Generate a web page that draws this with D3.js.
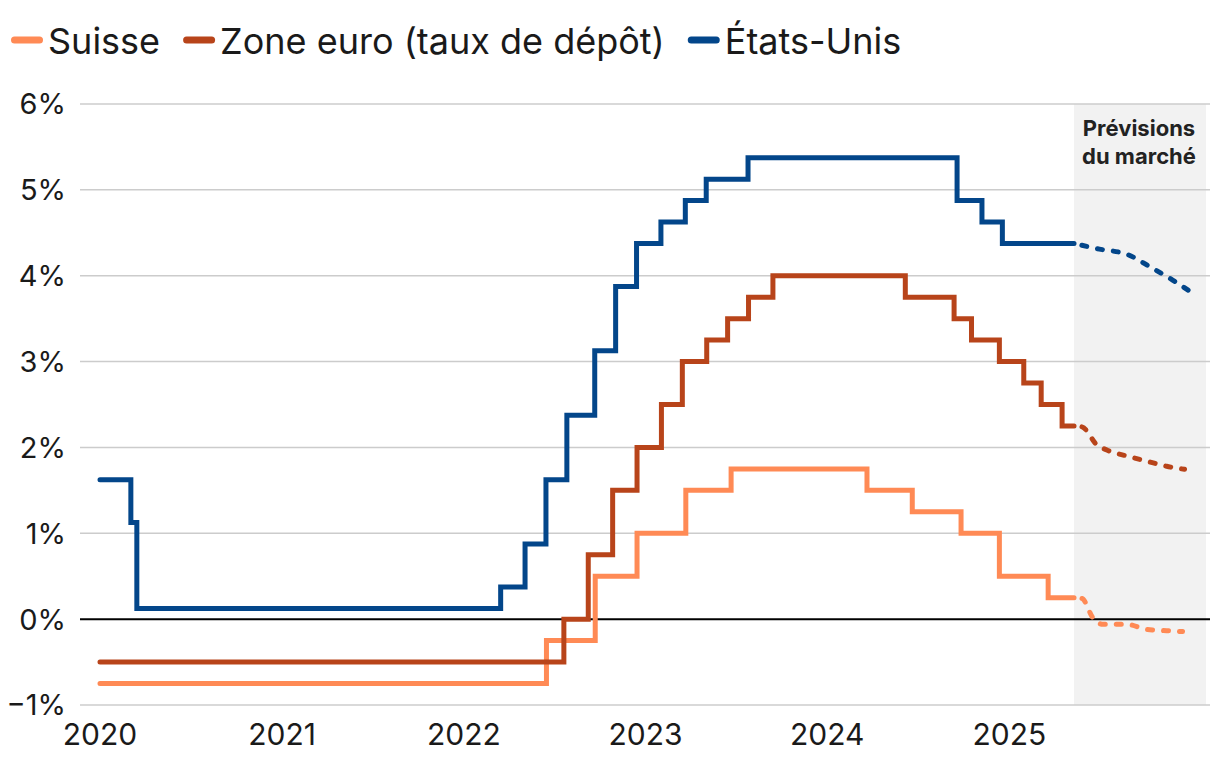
<!DOCTYPE html>
<html>
<head>
<meta charset="utf-8">
<script src="https://cdn.jsdelivr.net/npm/d3@7"></script>
<style>
  html, body { margin: 0; padding: 0; background: #fff; }
  svg { display: block; font-family: Inter, "Noto Sans", sans-serif; }
</style>
</head>
<body>
<svg id="chart" width="1220" height="764"></svg>
<script>
// ---------- DATA ----------
const seriesNames = ["Suisse", "Zone euro (taux de dépôt)", "États-Unis"];
const seriesColors = ["#FF8A55", "#B8441A", "#03468A"];

// Suisse (SNB policy rate)
const chDates  = ["2020-01-01","2022-06-16","2022-09-22","2022-12-15","2023-03-23","2023-06-22","2024-03-21","2024-06-20","2024-09-26","2024-12-12","2025-03-20","2025-05-11"];
const chValues = [-0.75, -0.25, 0.5, 1.0, 1.5, 1.75, 1.5, 1.25, 1.0, 0.5, 0.25, 0.25];

// Zone euro (taux de dépôt)
const euDates  = ["2020-01-01","2022-07-21","2022-09-08","2022-10-27","2022-12-15","2023-02-02","2023-03-16","2023-05-04","2023-06-15","2023-07-27","2023-09-14","2024-06-06","2024-09-12","2024-10-17","2024-12-12","2025-01-30","2025-03-06","2025-04-17","2025-05-11"];
const euValues = [-0.5, 0.0, 0.75, 1.5, 2.0, 2.5, 3.0, 3.25, 3.5, 3.75, 4.0, 3.75, 3.5, 3.25, 3.0, 2.75, 2.5, 2.25, 2.25];

// États-Unis (Fed funds, milieu de fourchette)
const usDates  = ["2020-01-01","2020-03-03","2020-03-15","2022-03-16","2022-05-04","2022-06-15","2022-07-27","2022-09-21","2022-11-02","2022-12-14","2023-02-01","2023-03-22","2023-05-03","2023-07-26","2024-09-18","2024-11-07","2024-12-18","2025-05-11"];
const usValues = [1.625, 1.125, 0.125, 0.375, 0.875, 1.625, 2.375, 3.125, 3.875, 4.375, 4.625, 4.875, 5.125, 5.375, 4.875, 4.625, 4.375, 4.375];

// Prévisions du marché
const chFcDates  = ["2025-05-11","2025-05-27","2025-06-18","2025-07-08","2025-08-25","2025-10-04","2025-11-13","2025-12-15"];
const chFcValues = [0.25, 0.24, 0.015, -0.06, -0.06, -0.12, -0.135, -0.145];
const euFcDates  = ["2025-05-11","2025-05-27","2025-06-26","2025-07-16","2025-08-25","2025-10-04","2025-11-13","2025-12-19"];
const euFcValues = [2.25, 2.24, 2.03, 1.97, 1.90, 1.84, 1.78, 1.745];
const usFcDates  = ["2025-05-11","2025-07-01","2025-08-25","2025-10-16","2025-11-25","2025-12-28"];
const usFcValues = [4.375, 4.31, 4.25, 4.085, 3.95, 3.825];

const forecastStart = "2025-05-11";
const forecastEnd = "2026-01-31";
const forecastLabel = ["Prévisions", "du marché"];

const yTicks = [-1, 0, 1, 2, 3, 4, 5, 6];
const xTickYears = [2020, 2021, 2022, 2023, 2024, 2025];

// ---------- LAYOUT ----------
const parse = d3.utcParse("%Y-%m-%d");
const svg = d3.select("#chart");
const gridX0 = 80, gridX1 = 1210;

const x = d3.scaleUtc()
  .domain([parse("2020-01-01"), parse("2026-01-01")])
  .range([100, 1191]);
const y = d3.scaleLinear().domain([-1, 6]).range([705, 104]);

const textColor = "#1a1a1a";

// forecast shading
svg.append("rect")
  .attr("x", x(parse(forecastStart)))
  .attr("y", y(6))
  .attr("width", x(parse(forecastEnd)) - x(parse(forecastStart)))
  .attr("height", y(-1) - y(6))
  .attr("fill", "#f2f2f2");

// gridlines
svg.append("g").selectAll("line").data(yTicks.filter(d => d !== 0)).join("line")
  .attr("x1", gridX0).attr("x2", gridX1)
  .attr("y1", d => y(d)).attr("y2", d => y(d))
  .attr("stroke", "#cccccc").attr("stroke-width", 1.5);

// y labels
svg.append("g").selectAll("text").data(yTicks).join("text")
  .attr("x", 66).attr("y", d => y(d))
  .attr("dy", "0.36em")
  .attr("text-anchor", "end")
  .attr("font-size", 29)
  .attr("fill", textColor)
  .text(d => (d < 0 ? "\u2212" + Math.abs(d) : d) + "%");

// x labels
svg.append("g").selectAll("text").data(xTickYears).join("text")
  .attr("x", d => x(parse(d + "-01-01")))
  .attr("y", 745)
  .attr("text-anchor", "middle")
  .attr("font-size", 30)
  .attr("fill", textColor)
  .text(d => d);

// zero line
svg.append("line")
  .attr("x1", gridX0).attr("x2", gridX1)
  .attr("y1", y(0)).attr("y2", y(0))
  .attr("stroke", "#000").attr("stroke-width", 2);

// forecast label
svg.append("text")
  .attr("text-anchor", "middle")
  .attr("font-size", 22).attr("font-weight", 700)
  .attr("fill", "#222")
  .selectAll("tspan").data(forecastLabel).join("tspan")
  .attr("x", 1139)
  .attr("y", (d, i) => 136 + i * 28)
  .text(d => d);

// lines
const stepLine = d3.line().x(d => x(d[0])).y(d => y(d[1])).curve(d3.curveStepAfter);
const smoothLine = d3.line().x(d => x(d[0])).y(d => y(d[1])).curve(d3.curveMonotoneX);
const zip = (ds, vs) => ds.map((d, i) => [parse(d), vs[i]]);

const actual = [zip(chDates, chValues), zip(euDates, euValues), zip(usDates, usValues)];
const forecast = [zip(chFcDates, chFcValues), zip(euFcDates, euFcValues), zip(usFcDates, usFcValues)];

actual.forEach((data, i) => {
  svg.append("path").datum(data)
    .attr("d", stepLine)
    .attr("fill", "none")
    .attr("stroke", seriesColors[i])
    .attr("stroke-width", 5)
    .attr("stroke-linejoin", "miter")
    .attr("stroke-linecap", "round");
  svg.append("path").datum(forecast[i])
    .attr("d", smoothLine)
    .attr("fill", "none")
    .attr("stroke", seriesColors[i])
    .attr("stroke-width", 5)
    .attr("stroke-dasharray", "5,11")
    .attr("stroke-dashoffset", -8)
    .attr("stroke-linecap", "round");
});

// legend
const legend = svg.append("g");
let lx = 11;
seriesNames.forEach((name, i) => {
  legend.append("line")
    .attr("x1", lx + 3.5).attr("x2", lx + 28.5)
    .attr("y1", 40).attr("y2", 40)
    .attr("stroke", seriesColors[i]).attr("stroke-width", 7)
    .attr("stroke-linecap", "round");
  const t = legend.append("text")
    .attr("x", lx + 37).attr("y", 41)
    .attr("dy", "0.36em")
    .attr("font-size", 36)
    .attr("fill", textColor)
    .text(name);
  lx = lx + 37 + t.node().getComputedTextLength() + 23;
});
</script>
</body>
</html>
